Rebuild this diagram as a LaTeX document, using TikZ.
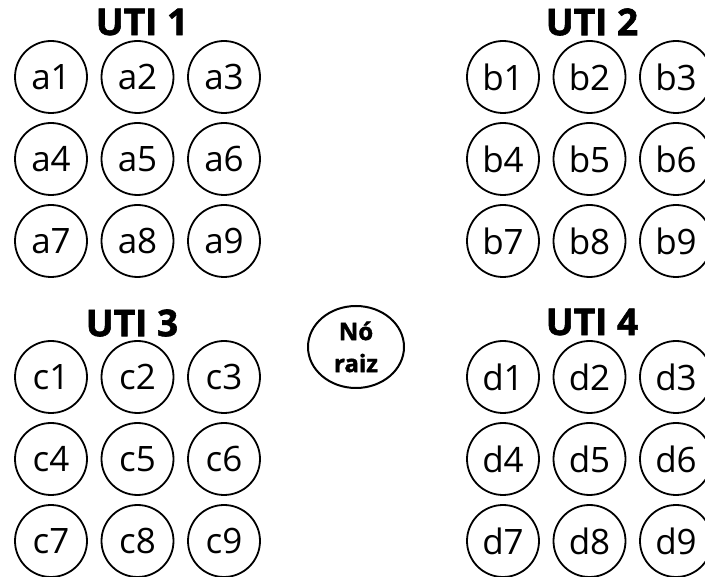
\documentclass[tikz,border=0pt]{standalone}
\usepackage{fontspec}
\setmainfont{Open Sans}
\newfontfamily\heavyfont[BoldFeatures={FakeBold=1.6}]{Open Sans}
\usetikzlibrary{shapes.geometric}

\begin{document}
\begin{tikzpicture}[x=1pt, y=-1pt,
  leaf/.style={circle, draw, line width=1.8pt, minimum size=72pt, inner sep=0pt, font=\fontsize{35}{35}\selectfont},
  utititle/.style={font=\fontsize{37}{37}\selectfont\heavyfont\bfseries},
  rootnode/.style={ellipse, draw, line width=2pt, minimum width=96pt, minimum height=82pt, inner sep=0pt, align=center, font=\fontsize{24}{32}\selectfont\heavyfont\bfseries}]
\useasboundingbox (0,0) rectangle (705,577);
% the four UTI groups, 3x3 beds each
\foreach \g/\x/\y in {a/51/77, b/503/77, c/51/377, d/503/377} {
  \foreach \k in {1,...,9} {
    \pgfmathtruncatemacro{\col}{mod(\k-1,3)}
    \pgfmathtruncatemacro{\row}{(\k-1)/3}
    \node[leaf] (\g\k) at (\x+86.5*\col, \y+82*\row) {\g\k};
  }
}
\node[utititle] (uti1) at (142,22) {UTI 1};
\node[utititle] (uti2) at (592,22) {UTI 2};
\node[utititle] (uti3) at (132,323) {UTI 3};
\node[utititle] (uti4) at (592,322) {UTI 4};
\node[rootnode] (raiz) at (356,347) {Nó\\raiz};
\end{tikzpicture}
\end{document}
